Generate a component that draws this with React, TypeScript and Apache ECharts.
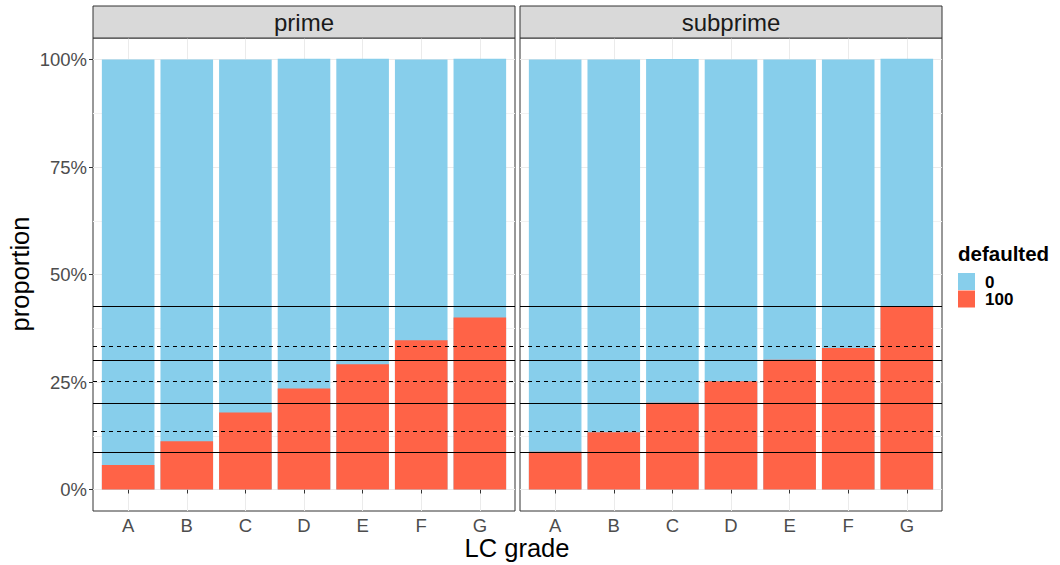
import React, { useEffect, useRef } from "react";
import * as echarts from "echarts";

const grades = ["A", "B", "C", "D", "E", "F", "G"];
const panels = ["prime", "subprime"];
const legendTitle = "defaulted";
const levels = ["0", "100"];
const levelColors = ["#87CEEB", "#FF6347"];

// proportion defaulted (level "100") and not defaulted (level "0")
const prime100 = [0.057, 0.112, 0.179, 0.235, 0.291, 0.347, 0.4];
const prime0 = [0.943, 0.888, 0.821, 0.767, 0.711, 0.653, 0.602];
const subprime100 = [0.088, 0.133, 0.202, 0.252, 0.302, 0.329, 0.425];
const subprime0 = [0.912, 0.867, 0.799, 0.748, 0.698, 0.671, 0.577];

const solidLines = [0.0876, 0.2016, 0.3016, 0.4256];
const dashedLines = [0.1365, 0.252, 0.332];

const yBreaks = [0, 0.25, 0.5, 0.75, 1];
const yMinorBreaks = [0.125, 0.375, 0.625, 0.875];

const FONT = "'Liberation Sans', Arial, Helvetica, sans-serif";

export default function App() {
  const ref = useRef<HTMLDivElement>(null);

  useEffect(() => {
    document.body.style.margin = "0";
    const chart = echarts.init(ref.current!, undefined, { renderer: "svg" });
    const xPos = grades.map((_, i) => i + 1);
    const panelData = [
      [prime100, prime0],
      [subprime100, subprime0],
    ];
    const grids = [
      { left: 93, top: 38, width: 422, height: 473 },
      { left: 520, top: 38, width: 422, height: 473 },
    ];

    const xAxis: any[] = [];
    const yAxis: any[] = [];
    const series: any[] = [];

    panels.forEach((p, gi) => {
      xAxis.push({
        type: "value",
        gridIndex: gi,
        min: 0.4,
        max: 7.6,
        axisLine: { show: false },
        axisTick: {
          show: true,
          customValues: xPos,
          length: 4,
          lineStyle: { color: "#333333", width: 1 },
        },
        axisLabel: {
          customValues: xPos,
          formatter: (v: number) => grades[Math.round(v) - 1],
          color: "#4D4D4D",
          fontSize: 18.5,
          fontFamily: FONT,
          margin: 5,
        },
        splitLine: { show: true, lineStyle: { color: "#EBEBEB", width: 1 } },
      });
      yAxis.push({
        type: "value",
        gridIndex: gi,
        min: -0.05,
        max: 1.05,
        axisLine: { show: false },
        axisTick: {
          show: gi === 0,
          customValues: yBreaks,
          length: 4,
          lineStyle: { color: "#333333", width: 1 },
        },
        axisLabel: {
          show: gi === 0,
          customValues: yBreaks,
          formatter: (v: number) => Math.round(v * 100) + "%",
          color: "#4D4D4D",
          fontSize: 18.5,
          fontFamily: FONT,
          margin: 6,
        },
        splitLine: { show: true, lineStyle: { color: "#EBEBEB", width: 1 } },
      });
      yAxis.push({
        type: "value",
        gridIndex: gi,
        min: -0.05,
        max: 1.05,
        position: "left",
        axisLine: { show: false },
        axisTick: { show: false, customValues: yMinorBreaks },
        axisLabel: { show: false, customValues: yMinorBreaks },
        splitLine: { show: true, lineStyle: { color: "#F2F2F2", width: 1 } },
      });
    });

    panels.forEach((p, gi) => {
      const [d100, d0] = panelData[gi];
      const yIdx = gi * 2;
      // stacked: upper segment (level "0") spans from 0 to cumulative top, lower segment drawn over it
      series.push({
        type: "bar",
        name: levels[0],
        xAxisIndex: gi,
        yAxisIndex: yIdx,
        barWidth: 52.6,
        barGap: "-100%",
        itemStyle: { color: levelColors[0] },
        data: d0.map((v, i) => [xPos[i], d100[i] + v]),
        z: 2,
      });
      series.push({
        type: "bar",
        name: levels[1],
        xAxisIndex: gi,
        yAxisIndex: yIdx,
        barWidth: 52.6,
        barGap: "-100%",
        itemStyle: { color: levelColors[1] },
        data: d100.map((v, i) => [xPos[i], v]),
        z: 3,
      });
      series.push({
        type: "line",
        xAxisIndex: gi,
        yAxisIndex: yIdx,
        data: [],
        z: 5,
        silent: true,
        markLine: {
          silent: true,
          precision: 6,
          symbol: ["none", "none"],
          label: { show: false },
          lineStyle: { color: "#000000", width: 1 },
          emphasis: { disabled: true },
          data: [
            ...solidLines.map((v) => ({ yAxis: v, lineStyle: { type: "solid", color: "#000", width: 1 } })),
            ...dashedLines.map((v) => ({ yAxis: v, lineStyle: { type: [4, 4], color: "#000", width: 1 } })),
          ],
        },
      });
    });

    const graphic: any[] = [];
    panels.forEach((p, gi) => {
      const g = grids[gi];
      graphic.push({
        type: "rect",
        shape: { x: g.left, y: 6, width: g.width, height: 32 },
        style: { fill: "#D9D9D9", stroke: "#333333", lineWidth: 1 },
        z: 10,
      });
      graphic.push({
        type: "text",
        x: g.left + g.width / 2,
        y: 22,
        style: {
          text: p,
          fontSize: 24,
          fontFamily: FONT,
          fill: "#1A1A1A",
          align: "center",
          verticalAlign: "middle",
          textAlign: "center",
          textVerticalAlign: "middle",
        },
        z: 11,
      });
    });
    graphic.push({
      type: "text",
      x: 517,
      y: 548,
      style: {
        text: "LC grade",
        fontSize: 25.5,
        fontFamily: FONT,
        fill: "#000",
        align: "center",
        verticalAlign: "middle",
        textAlign: "center",
        textVerticalAlign: "middle",
      },
    });
    graphic.push({
      type: "text",
      x: 20,
      y: 274,
      rotation: Math.PI / 2,
      style: {
        text: "proportion",
        fontSize: 25.5,
        fontFamily: FONT,
        fill: "#000",
        align: "center",
        verticalAlign: "middle",
        textAlign: "center",
        textVerticalAlign: "middle",
      },
    });
    graphic.push({
      type: "text",
      x: 958,
      y: 253,
      style: {
        text: legendTitle,
        fontSize: 20.5,
        fontWeight: "bold",
        fontFamily: FONT,
        fill: "#000",
        align: "left",
        verticalAlign: "middle",
        textAlign: "left",
        textVerticalAlign: "middle",
      },
    });
    levels.forEach((lv, i) => {
      graphic.push({
        type: "rect",
        shape: { x: 958, y: 273 + i * 17.5, width: 17, height: 17 },
        style: { fill: levelColors[i] },
      });
      graphic.push({
        type: "text",
        x: 985,
        y: 282 + i * 17.5,
        style: {
          text: lv,
          fontSize: 17,
          fontWeight: "bold",
          fontFamily: FONT,
          fill: "#000",
          align: "left",
          verticalAlign: "middle",
          textAlign: "left",
          textVerticalAlign: "middle",
        },
      });
    });

    chart.setOption({
      animation: false,
      backgroundColor: "#ffffff",
      textStyle: { fontFamily: FONT },
      grid: grids.map((g) => ({
        ...g,
        show: true,
        borderColor: "#333333",
        borderWidth: 1,
        backgroundColor: "#ffffff",
        containLabel: false,
      })),
      xAxis,
      yAxis,
      series,
      graphic,
    });
    return () => chart.dispose();
  }, []);

  return <div ref={ref} style={{ width: 1060, height: 565 }} />;
}
